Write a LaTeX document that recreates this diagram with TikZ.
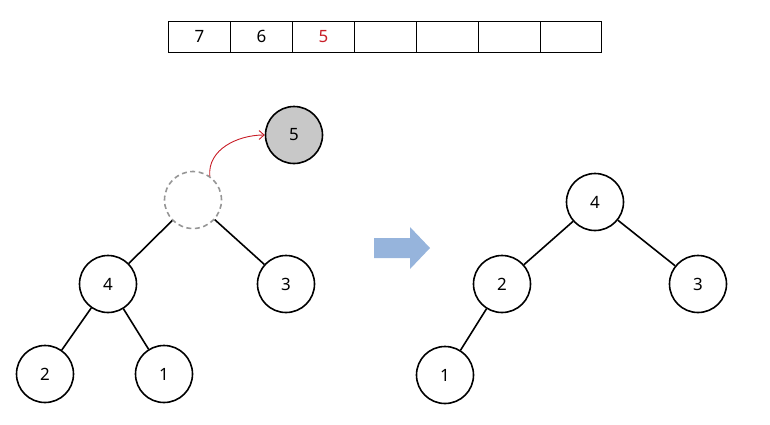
\documentclass[tikz,border=0pt]{standalone}
\usepackage{fontspec}
\setmainfont{Noto Sans}
\usetikzlibrary{arrows.meta}
\definecolor{cellred}{RGB}{200,30,40}
\definecolor{arrowblue}{RGB}{150,180,220}
\definecolor{dashgray}{RGB}{150,150,150}
\definecolor{fillgray}{RGB}{200,200,200}
\tikzset{
  tnode/.style={circle,draw=black,line width=1.6pt,minimum size=57bp,inner sep=0pt,font=\fontsize{17}{20}\selectfont},
  ghost/.style={circle,draw=dashgray,dashed,dash pattern=on 5bp off 3.5bp,line width=1.6pt,minimum size=57bp,inner sep=0pt},
  edge/.style={line width=1.6pt,black},
  cell/.style={draw=black,line width=0.8pt,minimum width=62bp,minimum height=31bp,inner sep=0pt,font=\fontsize{17}{20}\selectfont,anchor=north west},
}
\begin{document}
\begin{tikzpicture}[x=1bp,y=-1bp]
\useasboundingbox (0,0) rectangle (770,424);
% array
\node[cell] (c1) at (168,21) {7};
\node[cell] (c2) at (230,21) {6};
\node[cell,text=cellred] (c3) at (292,21) {5};
\node[cell] (c4) at (354,21) {};
\node[cell] (c5) at (416,21) {};
\node[cell] (c6) at (478,21) {};
\node[cell,minimum width=61bp] (c7) at (540,21) {};
% left tree
\node[ghost] (g) at (193,200) {};
\node[tnode,fill=fillgray] (n5) at (294,135) {5};
\node[tnode] (l4) at (108,284) {4};
\node[tnode] (l3) at (286,284) {3};
\node[tnode] (l2) at (45,374) {2};
\node[tnode] (l1) at (164,374) {1};
\draw[edge] (g) -- (l4);
\draw[edge] (g) -- (l3);
\draw[edge] (l4) -- (l2);
\draw[edge] (l4) -- (l1);
\draw[cellred,line width=0.9pt,-{Straight Barb[length=5bp,width=9bp]}] (g.55) to[out=95,in=180] (n5.west);
% big arrow
\fill[arrowblue] (374,238) -- (410,238) -- (410,227) -- (430,248) -- (410,269) -- (410,258) -- (374,258) -- cycle;
% right tree
\node[tnode] (r4) at (595,202) {4};
\node[tnode] (r2) at (502,284) {2};
\node[tnode] (r3) at (698,284) {3};
\node[tnode] (r1) at (445,375) {1};
\draw[edge] (r4) -- (r2);
\draw[edge] (r4) -- (r3);
\draw[edge] (r2) -- (r1);
\end{tikzpicture}
\end{document}
